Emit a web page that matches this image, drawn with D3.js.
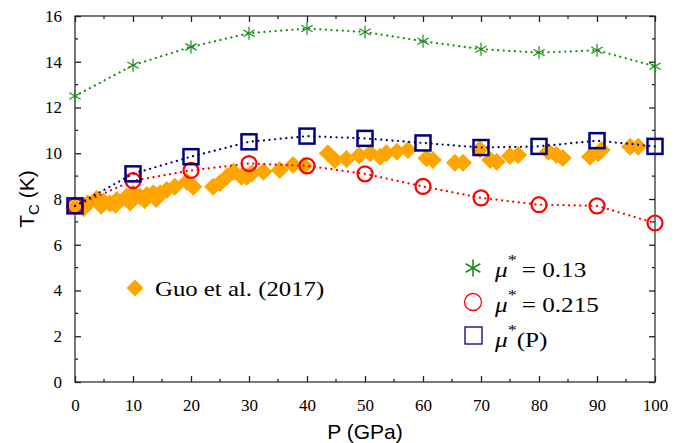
<!DOCTYPE html>
<html lang="en">
<head>
    <meta charset="UTF-8">
    <title>Tc vs pressure</title>
    <script src="https://cdn.jsdelivr.net/npm/d3@7/dist/d3.min.js"></script>
    <style>
        body { margin: 0; background: #fff; }
        .serif { font-family: "Liberation Serif", "Times New Roman", serif; }
        .sans { font-family: "Liberation Sans", Arial, sans-serif; }
        .tick text { font-family: "Liberation Serif", serif; font-size: 17px; fill: #000; }
    </style>
</head>
<body>
    <svg width="681" height="443"></svg>
    <script>
        // pressure grid for the calculated curves
        var pressures = [0, 10, 20, 30, 40, 50, 60, 70, 80, 90, 100];
        var tcMu013 = [12.5, 13.85, 14.65, 15.25, 15.45, 15.3, 14.9, 14.55, 14.4, 14.5, 13.8];
        var tcMu0215 = [7.7, 8.8, 9.25, 9.55, 9.45, 9.1, 8.55, 8.05, 7.75, 7.7, 6.95];
        var tcMuP = [7.7, 9.1, 9.85, 10.5, 10.75, 10.65, 10.45, 10.25, 10.3, 10.55, 10.3];

        // experimental points, Guo et al. (2017)
        var guoP = [0, 1.5, 2.2, 3.7, 4.5, 4.9, 6, 7, 7.2, 8.9, 9.5, 10, 11.2, 12, 12.4, 13.5, 14, 14.7, 15.8,
                    17.2, 19.3, 20.4, 23.8, 25, 26.2, 27.3, 28.7, 29.6, 30.5, 32.5, 35.3, 37.6, 39.5,
                    43.6, 44.8, 46.8, 49, 50.9, 52.6, 53.7, 55.5, 57.4, 60.6, 61.7, 65.5, 66.9, 69.8,
                    71.6, 72.7, 75, 76.4, 81.6, 83, 84.1, 88.8, 90.2, 90.8, 95.7, 97.1];
        var guoTc = [7.65, 7.6, 7.8, 8.0, 7.7, 7.88, 7.8, 7.75, 7.96, 8.1, 7.85, 8.24, 8.1, 7.95, 8.17, 8.25, 8.0, 8.25, 8.39,
                     8.54, 8.75, 8.54, 8.54, 8.7, 8.97, 9.19, 8.97, 8.97, 9.12, 9.19, 9.27, 9.49, 9.45,
                     10.0, 9.7, 9.75, 9.9, 10.0, 9.85, 10.0, 10.07, 10.14, 9.78, 9.7, 9.59, 9.59, 10.18,
                     9.7, 9.63, 9.88, 9.92, 10.07, 9.92, 9.79, 9.85, 10.0, 10.14, 10.28, 10.28];

        var xTicks = d3.range(0, 101, 10);
        var yTicks = d3.range(0, 17, 2);

        var svg = d3.select('svg'),
            margin = {top: 16, right: 26, bottom: 61, left: 75},
            width = 681 - margin.left - margin.right,
            height = 443 - margin.top - margin.bottom;

        var x = d3.scaleLinear().domain([0, 100]).range([0, width]);
        var y = d3.scaleLinear().domain([0, 16]).range([height, 0]);

        var g = svg.append('g')
            .attr('transform', 'translate(' + [margin.left, margin.top] + ')');

        // frame
        g.append('rect')
            .attr('width', width).attr('height', height)
            .attr('fill', 'none').attr('stroke', '#333').attr('stroke-width', 1.3);
        g.append('line')
            .attr('x1', 0).attr('x2', 0).attr('y1', 0).attr('y2', height)
            .attr('stroke', '#777').attr('stroke-width', 2);

        // ticks pointing inward
        function tickStyle(sel) {
            sel.select('.domain').remove();
            sel.selectAll('.tick line').attr('stroke', '#222').attr('stroke-width', 1.3);
        }
        g.append('g').attr('transform', 'translate(0,' + height + ')')
            .call(d3.axisBottom(x).tickValues(xTicks).tickSize(-6).tickPadding(17))
            .call(tickStyle);
        g.append('g')
            .call(d3.axisTop(x).tickValues(xTicks).tickSize(-6).tickFormat(''))
            .call(tickStyle);
        g.append('g')
            .call(d3.axisLeft(y).tickValues(yTicks).tickSize(-6).tickPadding(13))
            .call(tickStyle);
        g.append('g').attr('transform', 'translate(' + width + ',0)')
            .call(d3.axisRight(y).tickValues(yTicks).tickSize(-6).tickFormat(''))
            .call(tickStyle);

        // minor ticks
        var xMinor = d3.range(5, 100, 10), yMinor = d3.range(1, 16, 2);
        [0, height].forEach(function(yy) {
            g.selectAll(null).data(xMinor).enter().append('line')
                .attr('x1', d => x(d)).attr('x2', d => x(d))
                .attr('y1', yy).attr('y2', yy === 0 ? 3 : yy - 3)
                .attr('stroke', '#222').attr('stroke-width', 1.3);
        });
        [0, width].forEach(function(xx) {
            g.selectAll(null).data(yMinor).enter().append('line')
                .attr('y1', d => y(d)).attr('y2', d => y(d))
                .attr('x1', xx).attr('x2', xx === 0 ? 3 : xx - 3)
                .attr('stroke', '#222').attr('stroke-width', 1.3);
        });

        // experimental diamonds
        var dia = 9;
        function diamondPath(cx, cy, r) {
            return 'M' + cx + ',' + (cy - r) + 'L' + (cx + r) + ',' + cy + 'L' + cx + ',' + (cy + r) + 'L' + (cx - r) + ',' + cy + 'Z';
        }
        g.selectAll('.guo').data(guoP).enter().append('path')
            .attr('class', 'guo')
            .attr('d', (d, i) => diamondPath(x(d), y(guoTc[i]), dia))
            .attr('fill', '#ffa500');

        var line = d3.line().x(d => x(d[0])).y(d => y(d[1]));

        function series(vals, color) {
            var pts = pressures.map((p, i) => [p, vals[i]]);
            g.append('path').datum(pts)
                .attr('d', line)
                .attr('fill', 'none')
                .attr('stroke', color)
                .attr('stroke-width', 2.2)
                .attr('stroke-linecap', 'round')
                .attr('stroke-dasharray', '0.1,5.5');
            return pts;
        }

        // mu* = 0.13, asterisks
        var green = '#1a8c1a';
        var pG = series(tcMu013, green);
        function star(sel, cx, cy, r, w) {
            [90, 30, 150].forEach(function(a) {
                var rad = a * Math.PI / 180;
                sel.append('line')
                    .attr('x1', cx - r * Math.cos(rad)).attr('y1', cy - r * Math.sin(rad))
                    .attr('x2', cx + r * Math.cos(rad)).attr('y2', cy + r * Math.sin(rad))
                    .attr('stroke', green).attr('stroke-width', w);
            });
        }
        pG.forEach(d => star(g, x(d[0]), y(d[1]), 6.5, 1.2));

        // mu* = 0.215, circles
        var pR = series(tcMu0215, '#ff0000');
        g.selectAll('.circ').data(pR).enter().append('circle')
            .attr('class', 'circ')
            .attr('cx', d => x(d[0])).attr('cy', d => y(d[1])).attr('r', 7.5)
            .attr('fill', 'none').attr('stroke', '#ff0000').attr('stroke-width', 2.2);

        // mu*(P), squares
        var navy = '#000080';
        var pB = series(tcMuP, navy);
        g.selectAll('.sq').data(pB).enter().append('rect')
            .attr('class', 'sq')
            .attr('x', d => x(d[0]) - 7.5).attr('y', d => y(d[1]) - 7.5)
            .attr('width', 15).attr('height', 15)
            .attr('fill', 'none').attr('stroke', navy).attr('stroke-width', 2.5);

        // axis titles
        svg.append('text').attr('class', 'sans')
            .attr('x', 365).attr('y', 439).attr('text-anchor', 'middle')
            .attr('font-size', 21).text('P (GPa)');
        var yt = svg.append('text').attr('class', 'sans')
            .attr('transform', 'translate(34,199) rotate(-90)')
            .attr('text-anchor', 'middle').attr('font-size', 21);
        yt.append('tspan').text('T');
        yt.append('tspan').attr('font-size', 15).attr('dy', 5).text('C');
        yt.append('tspan').attr('dy', -5).text(' (K)');

        // legend: experiment
        svg.append('path').attr('d', diamondPath(135, 288, 8.5)).attr('fill', '#ffa500');
        svg.append('text').attr('class', 'serif')
            .attr('transform', 'translate(155,296) scale(1.18,1)')
            .attr('font-size', 21).text('Guo et al. (2017)');

        // legend: calculations
        var lg = svg.append('g');
        star(lg, 473, 268, 8.5, 1.6);
        lg.append('circle').attr('cx', 473).attr('cy', 302).attr('r', 8.5)
            .attr('fill', 'none').attr('stroke', '#ff0000').attr('stroke-width', 1.3);
        lg.append('rect').attr('x', 465).attr('y', 327).attr('width', 17).attr('height', 17)
            .attr('fill', 'none').attr('stroke', navy).attr('stroke-width', 1.3);

        var labels = [['= 0.13', 277], ['= 0.215', 312], ['(P)', 347]];
        labels.forEach(function(l) {
            var t = lg.append('text').attr('class', 'serif')
                .attr('transform', 'translate(495,' + l[1] + ') scale(1.2,1)')
                .attr('font-size', 21);
            t.append('tspan').attr('font-style', 'italic').text('\u03bc');
            t.append('tspan').attr('font-size', 15).attr('dy', -12).text('*');
            t.append('tspan').attr('dy', 12).text(l[0].charAt(0) === '(' ? l[0] : '\u2009' + l[0]);
        });
    </script>
</body>
</html>
